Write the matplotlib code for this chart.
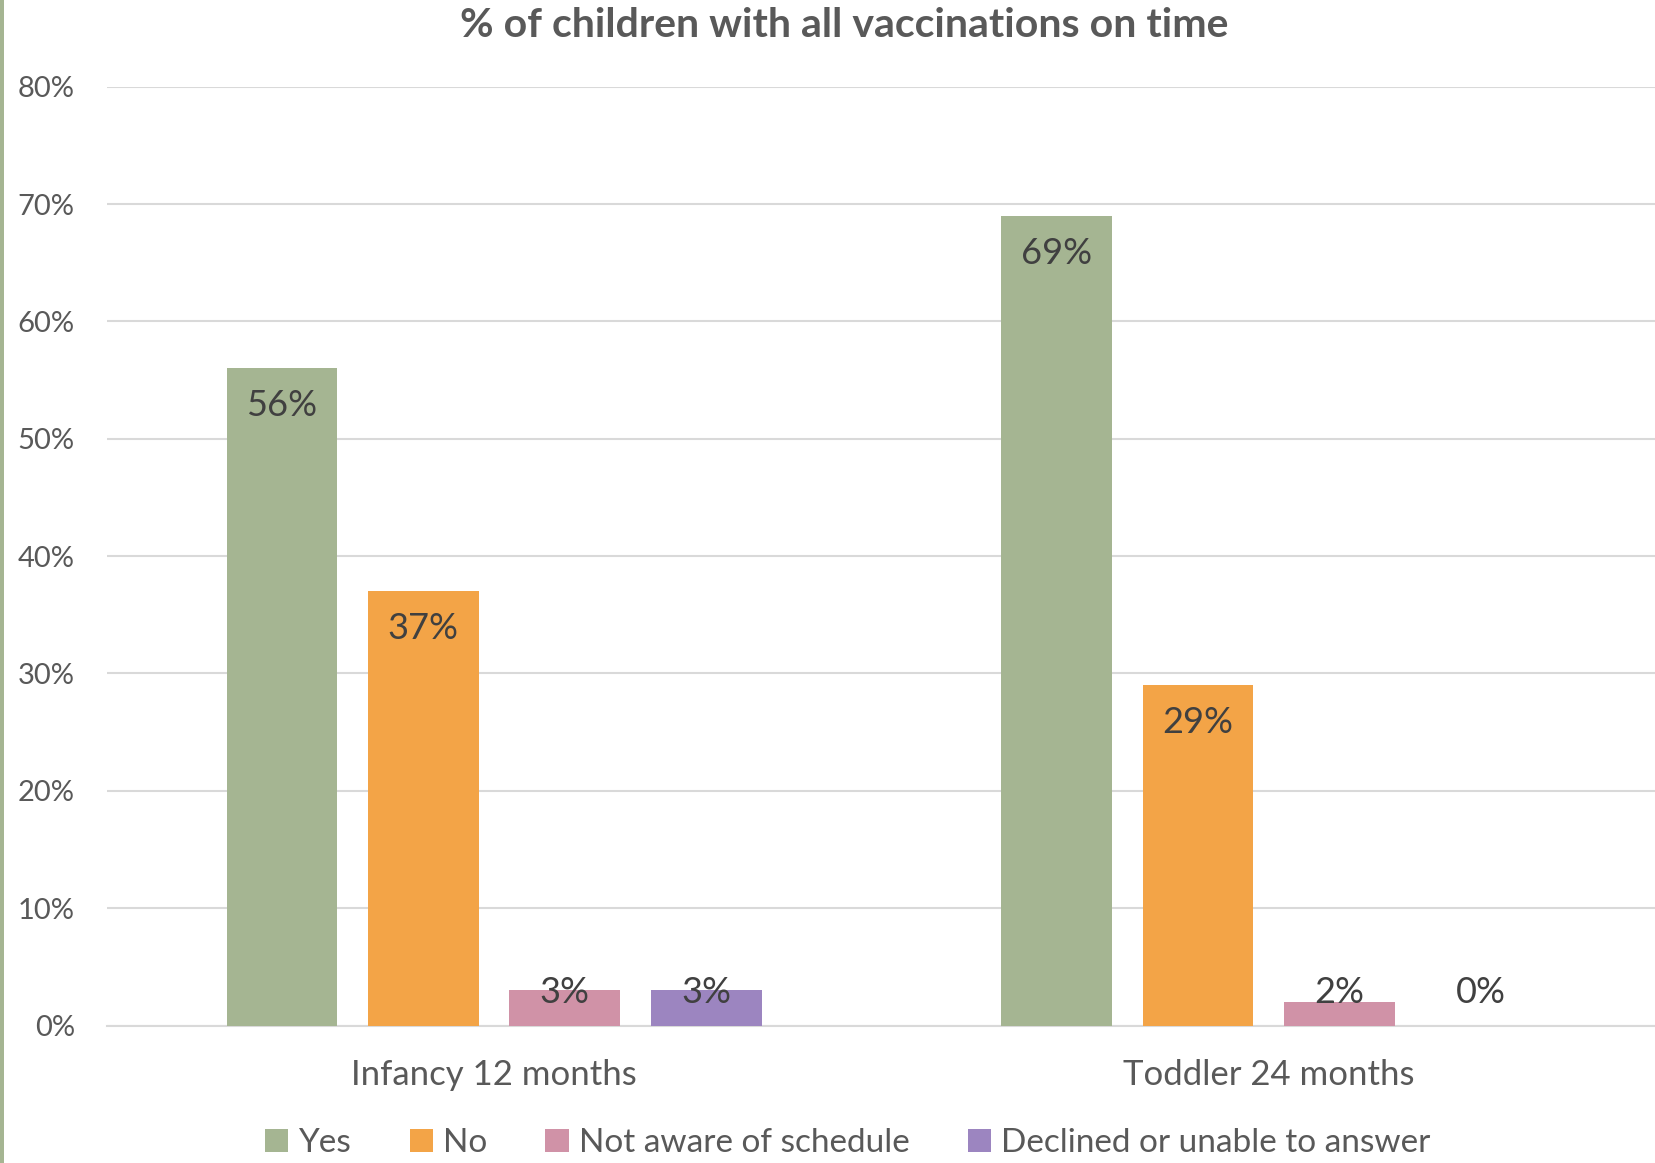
import numpy as np
import matplotlib
matplotlib.use("Agg")
import matplotlib.pyplot as plt
from matplotlib.patches import Rectangle
from matplotlib.ticker import FuncFormatter

plt.rcParams['font.family'] = ['Lato', 'DejaVu Sans']

# data
categories = ["Infancy 12 months", "Toddler 24 months"]
series = ["Yes", "No", "Not aware of schedule", "Declined or unable to answer"]
yes_vals = [0.56, 0.69]
no_vals = [0.37, 0.29]
not_aware_vals = [0.03, 0.02]
declined_vals = [0.03, 0.00]
colors = ["#A5B592", "#F3A447", "#D092A7", "#9C85C0"]

values = [yes_vals, no_vals, not_aware_vals, declined_vals]

fig = plt.figure(figsize=(16.56, 11.63), dpi=100)
ax = fig.add_axes([0.0645, 0.1182, 0.9355, 0.8073])

# thin green border down the left edge
fig.patches.append(Rectangle((0, 0), 0.0025, 1, transform=fig.transFigure,
                             facecolor="#A5B592", edgecolor="none"))

x = np.arange(len(categories))
bar_w = 0.143
step = 0.1826
offsets = (np.arange(len(series)) - 1.5) * step

for i, (name, vals) in enumerate(zip(series, values)):
    ax.bar(x + offsets[i], vals, width=bar_w, color=colors[i], label=name,
           zorder=3)
    for xi, v in zip(x + offsets[i], vals):
        ly = max(v - 0.032, 0.028)
        ax.text(xi, ly, f"{v*100:.0f}%", ha="center", va="center",
                fontsize=26, color="#404040", zorder=4)

ax.set_xlim(-0.5, 1.5)
ax.set_ylim(0, 0.8)
ax.set_yticks(np.arange(0, 0.81, 0.1))
ax.yaxis.set_major_formatter(FuncFormatter(lambda v, p: f"{v*100:.0f}%"))
ax.set_xticks(x)
ax.set_xticklabels(categories)
ax.tick_params(axis="both", length=0, colors="#595959")
ax.tick_params(axis="y", labelsize=21, pad=23)
ax.tick_params(axis="x", labelsize=25, pad=24)
ax.grid(axis="y", color="#D9D9D9", linewidth=1.5, zorder=0)
for s in ["top", "right", "left"]:
    ax.spines[s].set_visible(False)
ax.spines["bottom"].set_color("#D9D9D9")
ax.spines["bottom"].set_linewidth(1.5)

fig.text(0.51, 0.978, "% of children with all vaccinations on time",
         ha="center", va="center", fontsize=29.5, fontweight="bold",
         color="#595959")

fig.legend(loc="center", bbox_to_anchor=(0.512, 0.017), ncol=4,
           frameon=False, fontsize=24, handlelength=0.7, handleheight=0.7,
           handletextpad=0.3, columnspacing=1.75, labelcolor="#595959")

fig.savefig("out.png", dpi=100)
